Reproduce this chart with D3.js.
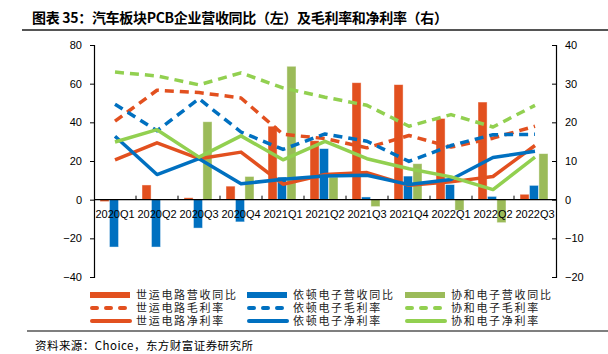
<!DOCTYPE html>
<html>
<head>
<meta charset="utf-8">
<script src="https://cdn.jsdelivr.net/npm/d3@7"></script>
<style>
  body { margin: 0; background: #fff; }
  svg { display: block; }
  .tick text { font-family: "Liberation Sans", Arial, sans-serif; font-size: 11px; fill: #000; }
</style>
</head>
<body>
<div id="chart"></div>
<script>
// dữ liệu
var categories = ["2020Q1", "2020Q2", "2020Q3", "2020Q4", "2021Q1", "2021Q2", "2021Q3", "2021Q4", "2022Q1", "2022Q2", "2022Q3"];

// 营收同比 (左轴, %)
var shiyunRev = [-1, 7.6, 1, 7, 38, 30.5, 60.5, 59.5, 42, 50.5, 2.8];
var yidunRev  = [-24.5, -24.5, -14.7, -11.5, 11.7, 26.4, 1.4, 12.2, 7.8, 1.7, 7.4];
var xieheRev  = [null, null, 40.3, 12, 69, 11.7, -3.6, 18.6, -5.5, -11.9, 23.8];

// 毛利率 (右轴, %)
var shiyunGross = [20.3, 28.3, 27.7, 26.3, 16.9, 15.8, 13.4, 16.6, 13.6, 15.9, 19];
var yidunGross  = [24.7, 17.8, 26.1, 17.5, 13, 17, 15.1, 9.9, 14, 16.8, 16.9];
var xieheGross  = [33, 32, 29.7, 32.8, 28.9, 26.5, 24.4, 19, 22, 18.8, 24.4];

// 净利率 (右轴, %)
var shiyunNet = [10.3, 14.7, 10.6, 12.3, 4, 6.5, 7, 3.7, 4.6, 6, 14];
var yidunNet  = [16.4, 6.5, 10.6, 4.1, 5.3, 6.1, 6.3, 3.9, 5.2, 10.9, 12.5];
var xieheNet  = [14.9, 18.1, 11, 16.5, 10.3, 15.1, 10.6, 8, 5.9, 2.6, 11];

var leftTicks = [-40, -20, 0, 20, 40, 60, 80];
var rightTicks = [-20, -10, 0, 10, 20, 30, 40];

var orange = "#E2501F", blue = "#0070C0", greenBar = "#9BBB59", greenLine = "#92D050";

var bars = [
  {name: "世运电路营收同比", values: shiyunRev, color: orange},
  {name: "依顿电子营收同比", values: yidunRev, color: blue},
  {name: "协和电子营收同比", values: xieheRev, color: greenBar}
];
var lines = [
  {name: "世运电路毛利率", values: shiyunGross, color: orange, dash: true},
  {name: "依顿电子毛利率", values: yidunGross, color: blue, dash: true},
  {name: "协和电子毛利率", values: xieheGross, color: greenLine, dash: true},
  {name: "世运电路净利率", values: shiyunNet, color: orange, dash: false},
  {name: "依顿电子净利率", values: yidunNet, color: blue, dash: false},
  {name: "协和电子净利率", values: xieheNet, color: greenLine, dash: false}
];

var W = 608, H = 354;
var plot = {left: 94, right: 556, top: 45, bottom: 277};

var svg = d3.select("#chart").append("svg").attr("width", W).attr("height", H);

// tiêu đề
svg.append("text")
  .attr("x", 32).attr("y", 23)
  .attr("font-family", "'Noto Sans CJK SC', sans-serif")
  .attr("font-size", 14).attr("font-weight", "bold")
  .attr("textLength", 416)
  .text("图表 35：汽车板块PCB企业营收同比（左）及毛利率和净利率（右）");
svg.append("line").attr("x1", 22).attr("x2", W).attr("y1", 30).attr("y2", 30)
  .attr("stroke", "#555").attr("stroke-width", 2);

var x = d3.scaleBand().domain(categories).range([plot.left, plot.right]).padding(0);
var xSub = d3.scaleBand().domain(bars.map(d => d.name)).range([6, 34]).paddingInner(0.04);
var yL = d3.scaleLinear().domain([-40, 80]).range([plot.bottom, plot.top]);
var yR = d3.scaleLinear().domain([-20, 40]).range([plot.bottom, plot.top]);

// cột
bars.forEach(function(s) {
  svg.append("g").selectAll("rect")
    .data(s.values.map((v, i) => ({cat: categories[i], v: v})).filter(d => d.v != null))
    .enter().append("rect")
    .attr("x", d => x(d.cat) + xSub(s.name))
    .attr("width", xSub.bandwidth())
    .attr("y", d => yL(Math.max(0, d.v)))
    .attr("height", d => Math.abs(yL(d.v) - yL(0)))
    .attr("fill", s.color)
    .attr("stroke", "rgba(255,255,255,0.55)")
    .attr("stroke-width", 0.8);
});

// trục x
var y0 = yL(0);
svg.append("line").attr("x1", plot.left).attr("x2", plot.right).attr("y1", y0).attr("y2", y0)
  .attr("stroke", "#000").attr("stroke-width", 1.2);
svg.append("g").selectAll("line")
  .data(categories.slice(1))
  .enter().append("line")
  .attr("x1", d => x(d)).attr("x2", d => x(d))
  .attr("y1", y0).attr("y2", y0 - 4)
  .attr("stroke", "#000");
svg.append("g").selectAll("text")
  .data(categories)
  .enter().append("text")
  .attr("x", d => x(d) + x.bandwidth() / 2)
  .attr("y", y0 + 18)
  .attr("text-anchor", "middle")
  .attr("font-family", "'Liberation Sans', Arial, sans-serif")
  .attr("font-size", 11)
  .text(d => d);

// đường
var lineGen = d3.line()
  .x((d, i) => x(categories[i]) + x.bandwidth() / 2)
  .y(d => yR(d));
lines.forEach(function(s) {
  svg.append("path")
    .datum(s.values)
    .attr("d", lineGen)
    .attr("fill", "none")
    .attr("stroke", s.color)
    .attr("stroke-width", 3.5)
    .attr("stroke-linejoin", "round")
    .attr("stroke-dasharray", s.dash ? "9,6" : null);
});

// trục y
var axL = svg.append("g").attr("transform", "translate(" + plot.left + ",0)")
  .call(d3.axisLeft(yL).tickValues(leftTicks).tickSize(4).tickPadding(8).tickFormat(d3.format("d")));
var axR = svg.append("g").attr("transform", "translate(" + plot.right + ",0)")
  .call(d3.axisRight(yR).tickValues(rightTicks).tickSize(-4).tickPadding(9).tickFormat(d3.format("d")));
[axL, axR].forEach(function(a) {
  a.select(".domain").attr("stroke", "#000").attr("stroke-width", 1.2);
  a.selectAll(".tick line").attr("stroke", "#000");
});

// chú giải
var legendItems = [
  {name: "世运电路营收同比", color: orange, type: "bar"},
  {name: "依顿电子营收同比", color: blue, type: "bar"},
  {name: "协和电子营收同比", color: greenBar, type: "bar"},
  {name: "世运电路毛利率", color: orange, type: "dash"},
  {name: "依顿电子毛利率", color: blue, type: "dash"},
  {name: "协和电子毛利率", color: greenLine, type: "dash"},
  {name: "世运电路净利率", color: orange, type: "line"},
  {name: "依顿电子净利率", color: blue, type: "line"},
  {name: "协和电子净利率", color: greenLine, type: "line"}
];
var colX = [90, 247, 405], rowY = [295, 308, 321];
var lg = svg.append("g").selectAll("g")
  .data(legendItems)
  .enter().append("g")
  .attr("transform", (d, i) => "translate(" + colX[i % 3] + "," + rowY[Math.floor(i / 3)] + ")");
lg.filter(d => d.type === "bar").append("rect")
  .attr("x", 0).attr("y", -3).attr("width", 40).attr("height", 6)
  .attr("fill", d => d.color);
lg.filter(d => d.type !== "bar").append("line")
  .attr("x1", 2).attr("x2", 40).attr("y1", 0).attr("y2", 0)
  .attr("stroke", d => d.color).attr("stroke-width", 4)
  .attr("stroke-linecap", "round")
  .attr("stroke-dasharray", d => d.type === "dash" ? "5,9" : null);
lg.append("text")
  .attr("x", 46).attr("y", 4)
  .attr("font-family", "'Noto Sans CJK SC', sans-serif")
  .attr("font-size", 11)
  .attr("letter-spacing", 1.7)
  .attr("fill", "#222")
  .text(d => d.name);

// nguồn
svg.append("line").attr("x1", 27).attr("x2", W).attr("y1", 331).attr("y2", 331)
  .attr("stroke", "#555").attr("stroke-width", 1.5);
svg.append("text")
  .attr("x", 35).attr("y", 350)
  .attr("font-family", "'Noto Sans CJK SC', sans-serif")
  .attr("font-size", 11.5)
  .attr("textLength", 218)
  .attr("lengthAdjust", "spacing")
  .text("资料来源：Choice，东方财富证券研究所");
</script>
</body>
</html>
